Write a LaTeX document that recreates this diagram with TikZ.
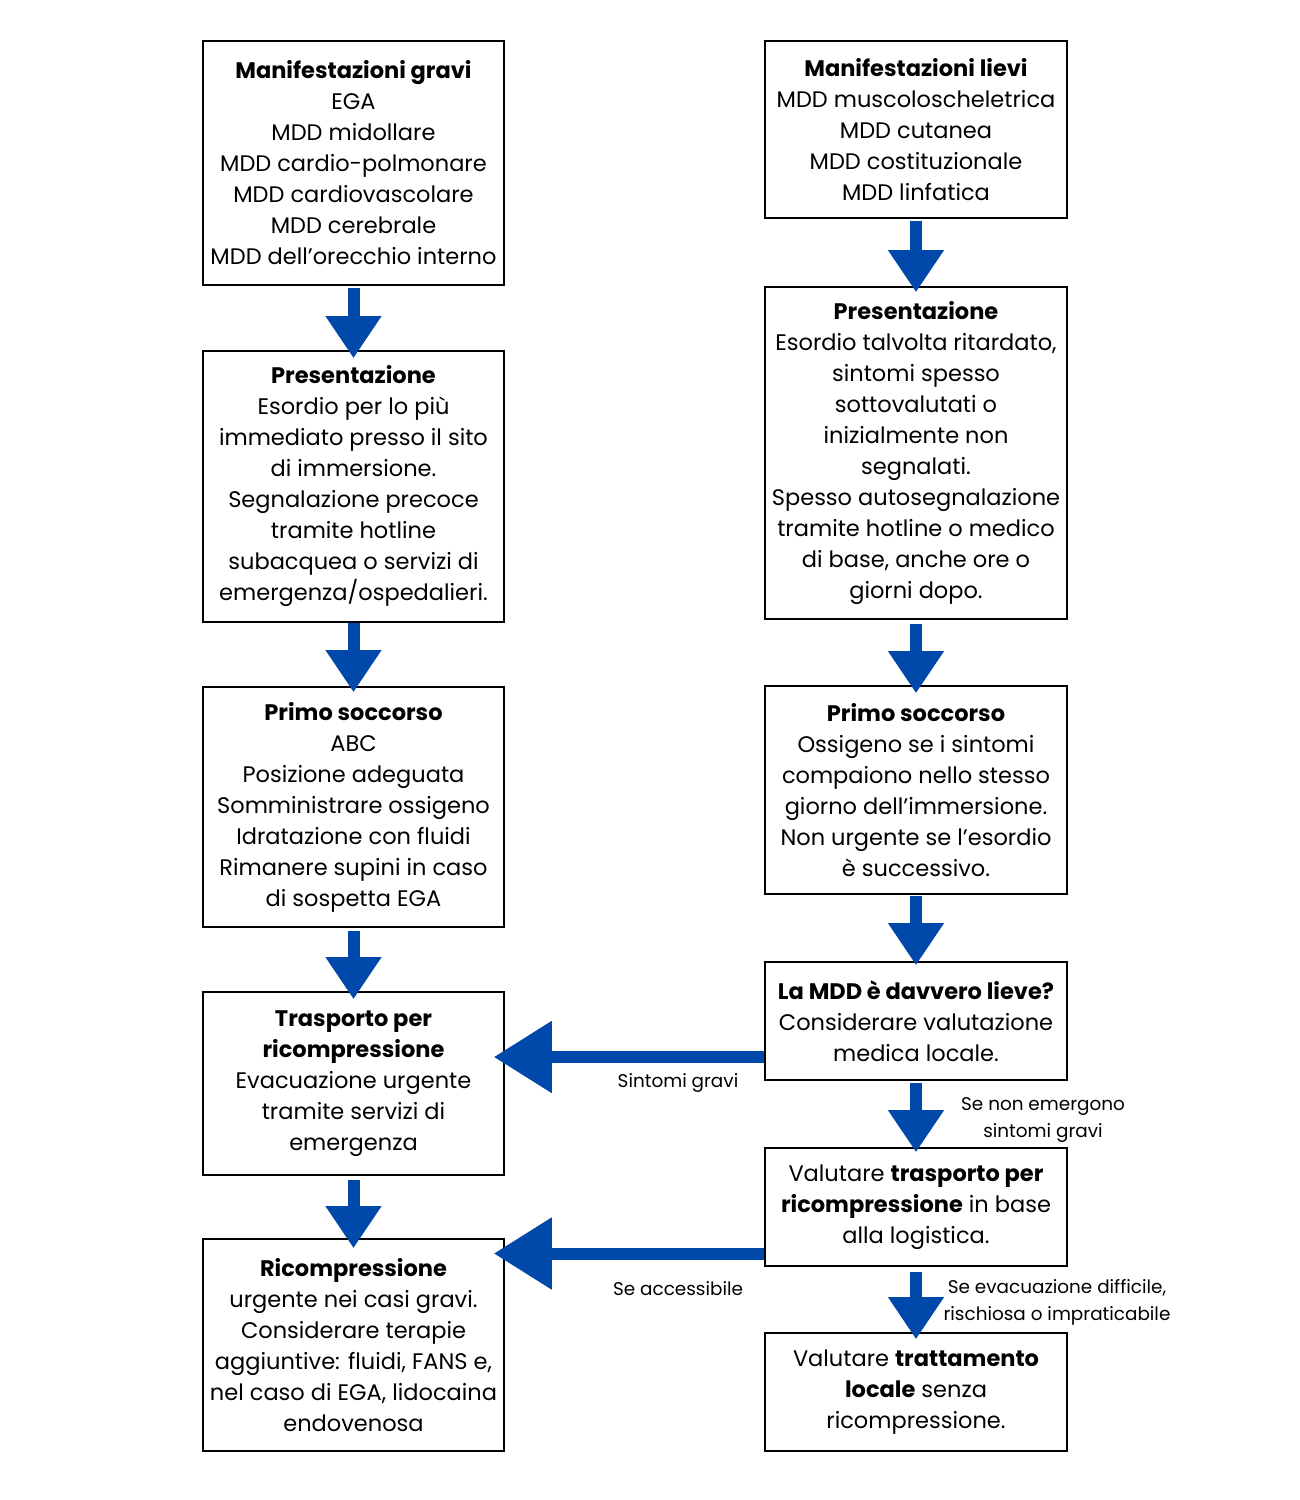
\documentclass[tikz,border=0pt]{standalone}
\usepackage{fontspec}
\setmainfont{Poppins}
\usetikzlibrary{arrows.meta,calc}
\definecolor{flowblue}{RGB}{0,72,170}
\tikzset{
  box/.style={draw=black,line width=1.6pt,fill=none,align=center,minimum width=301pt,inner sep=2pt,
    font=\fontsize{22.5}{31}\selectfont},
  varrow/.style={draw=flowblue,line width=12pt,-{Triangle[length=42pt,width=53pt]}},
  harrow/.style={draw=flowblue,line width=12pt,-{Triangle[length=58pt,width=69pt]}},
  lbl/.style={align=center,font=\fontsize{18.4}{27}\selectfont,inner sep=0pt}
}
\begin{document}
\begin{tikzpicture}[x=1pt,y=-1pt]
\useasboundingbox (0,0) rectangle (1300,1500);
% left column
\node[box,minimum height=244pt] (L1) at (353.5,163) {\textbf{Manifestazioni gravi}\\EGA\\MDD midollare\\MDD cardio-polmonare\\MDD cardiovascolare\\MDD cerebrale\\MDD dell’orecchio interno};
\node[box,minimum height=271pt] (L2) at (353.5,486.5) {\textbf{Presentazione}\\Esordio per lo più\\immediato presso il sito\\di immersione.\\Segnalazione precoce\\tramite hotline\\subacquea o servizi di\\emergenza/ospedalieri.};
\node[box,minimum height=240pt] (L3) at (353.5,807) {\textbf{Primo soccorso}\\ABC\\Posizione adeguata\\Somministrare ossigeno\\Idratazione con fluidi\\Rimanere supini in caso\\di sospetta EGA};
\node[box,minimum height=183pt] (L4) at (353.5,1083.5) {\textbf{Trasporto per}\\\textbf{ricompressione}\\Evacuazione urgente\\tramite servizi di\\emergenza};
\node[box,minimum height=212pt] (L5) at (353.5,1345) {\textbf{Ricompressione}\\urgente nei casi gravi.\\Considerare terapie\\aggiuntive: fluidi, FANS e,\\nel caso di EGA, lidocaina\\endovenosa};
% right column
\node[box,minimum width=302pt,minimum height=177pt] (R1) at (916,129.5) {\textbf{Manifestazioni lievi}\\MDD muscoloscheletrica\\MDD cutanea\\MDD costituzionale\\MDD linfatica};
\node[box,minimum width=302pt,minimum height=332pt] (R2) at (916,453) {\textbf{Presentazione}\\Esordio talvolta ritardato,\\sintomi spesso\\sottovalutati o\\inizialmente non\\segnalati.\\Spesso autosegnalazione\\tramite hotline o medico\\di base, anche ore o\\giorni dopo.};
\node[box,minimum width=302pt,minimum height=208pt] (R3) at (916,790) {\textbf{Primo soccorso}\\Ossigeno se i sintomi\\compaiono nello stesso\\giorno dell’immersione.\\Non urgente se l’esordio\\è successivo.};
\node[box,minimum width=302pt,minimum height=118pt] (R4) at (916,1021) {\textbf{La MDD è davvero lieve?}\\Considerare valutazione\\medica locale.};
\node[box,minimum width=302pt,minimum height=118pt] (R5) at (916,1207) {Valutare \textbf{trasporto per}\\\textbf{ricompressione} in base\\alla logistica.};
\node[box,minimum width=302pt,minimum height=118pt] (R6) at (916,1392) {Valutare \textbf{trattamento}\\\textbf{locale} senza\\ricompressione.};
% vertical arrows
\draw[varrow] ([yshift=-2pt]L1.south) -- ([yshift=-8pt]L2.north);
\draw[varrow] ([yshift=0pt]L2.south) -- ([yshift=-6pt]L3.north);
\draw[varrow] ([yshift=-3pt]L3.south) -- ([yshift=-8pt]L4.north);
\draw[varrow] ([yshift=-4pt]L4.south) -- ([yshift=-10pt]L5.north);
\draw[varrow] ([yshift=-2pt]R1.south) -- ([yshift=-6pt]R2.north);
\draw[varrow] ([yshift=-4pt]R2.south) -- ([yshift=-8pt]R3.north);
\draw[varrow] ([yshift=-1pt]R3.south) -- ([yshift=-4pt]R4.north);
\draw[varrow] ([yshift=-2pt]R4.south) -- ([yshift=-5pt]R5.north);
\draw[varrow] ([yshift=-5pt]R5.south) -- ([yshift=-7pt]R6.north);
% horizontal arrows
\coordinate (h1) at ([yshift=-36pt]R4.west);
\coordinate (h2) at ([yshift=-46.5pt]R5.west);
\draw[harrow] (h1) -- ([xshift=-11pt]L4.east |- h1);
\draw[harrow] (h2) -- ([xshift=-11pt]L5.east |- h2);
% labels
\node[lbl] (t1) at (678,1083) {Sintomi gravi};
\node[lbl] (t2) at (678,1289) {Se accessibile};
\node[lbl] (t3) at (1043,1120) {Se non emergono\\sintomi gravi};
\node[lbl] (t4) at (1057,1302) {Se evacuazione difficile,\\rischiosa o impraticabile};
\end{tikzpicture}
\end{document}
